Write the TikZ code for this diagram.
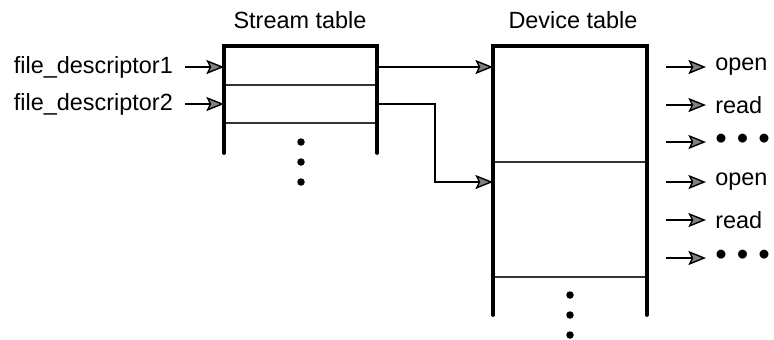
\documentclass[tikz,border=0pt]{standalone}
\usepackage{fontspec}
\setmainfont{Liberation Sans}
\usepackage{tikz}
\usetikzlibrary{positioning}
\usetikzlibrary{arrows.meta}
\pgfdeclarelayer{nodelayer}
\pgfdeclarelayer{edgelayer}
\pgfsetlayers{nodelayer,edgelayer,main}
\newcommand{\hdots}{{\fontsize{14}{14}\selectfont\textbullet\hspace{4.3pt}\textbullet\hspace{4.3pt}\textbullet}}
\tikzset{
    tablewall/.style={line width=1.6pt, line cap=round},
    tablerow/.style={line width=0.5pt, black!80},
    ptr/.style={line width=0.5pt, -{Stealth[length=7.5pt, width=6pt, inset=1.4pt, fill=gray, line width=0.6pt]}},
    vdot/.style={circle, fill, inner sep=0pt, minimum size=3.2pt},
}
\begin{document}
\begin{tikzpicture}[x=0.015cm, y=-0.015cm, font=\fontsize{10}{12}\selectfont]
        \useasboundingbox (0, 0) rectangle (774, 339);
        \begin{pgfonlayer}{nodelayer}
            \node [] (0) at (300, 20) {Stream table};
            \node [] (1) at (573, 20) {Device table};
            \node [anchor=east, inner xsep=5pt] (2) at (185, 67) {file\_descriptor1};
            \node [anchor=east, inner xsep=5pt] (3) at (185, 104) {file\_descriptor2};
            \coordinate (4) at (224, 67);
            \coordinate (5) at (224, 104);
            \coordinate (6) at (377, 67);
            \coordinate (7) at (377, 104);
            \coordinate (8) at (493, 67);
            \coordinate (9) at (493, 182);
            \node [vdot] (10) at (301, 142) {};
            \node [vdot] (11) at (301, 162) {};
            \node [vdot] (12) at (301, 182) {};
            \node [vdot] (13) at (570, 295) {};
            \node [vdot] (14) at (570, 315) {};
            \node [vdot] (15) at (570, 335) {};
            \node [anchor=west, inner xsep=3.8pt] (16) at (706, 67) {open};
            \node [anchor=west, inner xsep=3.8pt] (17) at (706, 105) {read};
            \node [anchor=west, inner xsep=3.8pt] (18) at (706, 142) {\hdots};
            \node [anchor=west, inner xsep=3.8pt] (19) at (706, 182) {open};
            \node [anchor=west, inner xsep=3.8pt] (20) at (706, 220) {read};
            \node [anchor=west, inner xsep=3.8pt] (21) at (706, 258) {\hdots};
            \coordinate (22) at (666, 67);
            \coordinate (23) at (666, 105);
            \coordinate (24) at (666, 142);
            \coordinate (25) at (666, 182);
            \coordinate (26) at (666, 220);
            \coordinate (27) at (666, 258);
        \end{pgfonlayer}
        \begin{pgfonlayer}{edgelayer}
            \draw [tablerow] (224, 85) to (377, 85);
            \draw [tablerow] (224, 123) to (377, 123);
            \draw [tablerow] (493, 162) to (647, 162);
            \draw [tablerow] (493, 277) to (647, 277);
            \draw [tablewall] (224, 153) to (224, 46) to (377, 46) to (377, 153);
            \draw [tablewall] (493, 315) to (493, 46) to (647, 46) to (647, 315);
            \draw [ptr] (2.east) to (4);
            \draw [ptr] (3.east) to (5);
            \draw [ptr] (6) to (8);
            \draw [ptr] (7) -- (435, 104) |- (9);
            \draw [ptr] (22) to (16.west);
            \draw [ptr] (23) to (17.west);
            \draw [ptr] (24) to (18.west);
            \draw [ptr] (25) to (19.west);
            \draw [ptr] (26) to (20.west);
            \draw [ptr] (27) to (21.west);
        \end{pgfonlayer}
    \end{tikzpicture}
\end{document}
